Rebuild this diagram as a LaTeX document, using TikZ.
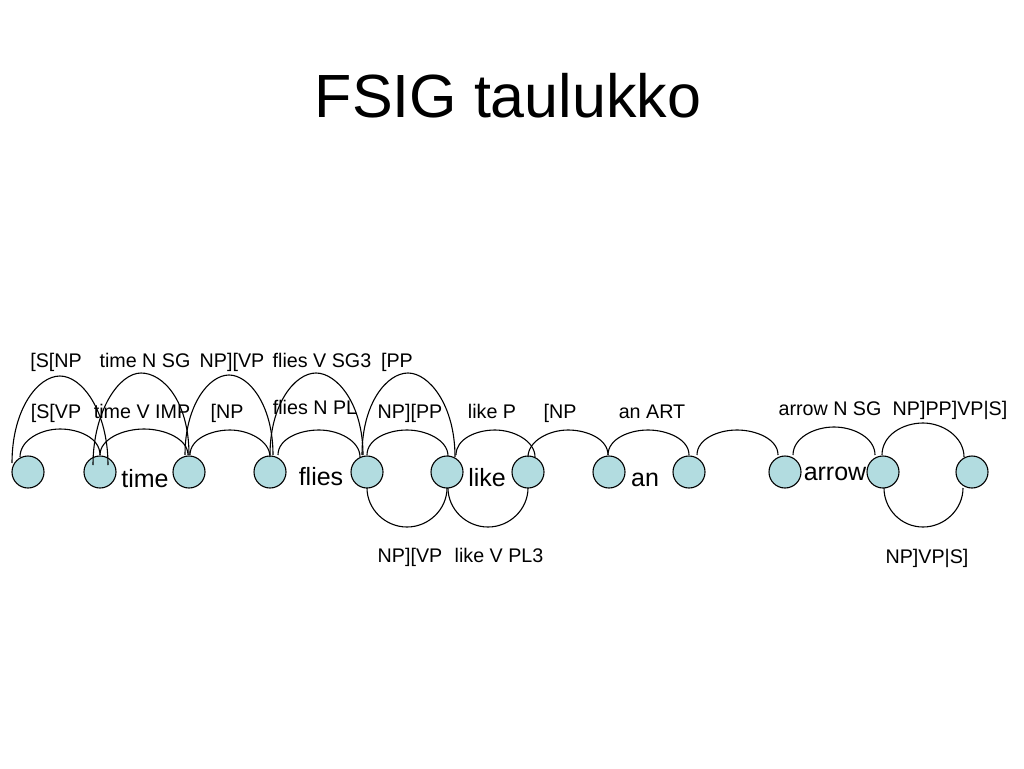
\documentclass[tikz,border=0pt]{standalone}
\usepackage{fontspec}
\setmainfont{Liberation Sans}
\definecolor{nodefill}{RGB}{178,220,224}
% #1 start, #2 end, #3 apex, #4 horizontal handle, #5 vertical handle (signed)
\newcommand\fsarc[5]{\draw[arc] (#1) .. controls +(0,#5) and +(-#4,0) .. (#3) .. controls +(#4,0) and +(0,#5) .. (#2);}
\begin{document}
\begin{tikzpicture}[x=1pt,y=-1pt,
  st/.style={circle,draw=black,line width=1.1pt,fill=nodefill,minimum size=32pt,inner sep=0pt},
  arc/.style={draw=black,line width=1.1pt},
  lab/.style={anchor=base,inner sep=0pt,font=\fontsize{19.7}{22}\selectfont},
  word/.style={anchor=base,inner sep=0pt,font=\fontsize{25}{28}\selectfont},
  ttl/.style={anchor=base,inner sep=0pt,font=\fontsize{61}{70}\selectfont}]
\useasboundingbox[fill=white] (0,0) rectangle (1024,768);
\node[ttl] (title) at (508,117) {FSIG taulukko};
% states
\node[st] (n0) at (28,472) {};
\node[st] (n1) at (100,472) {};
\node[st] (n2) at (189,472) {};
\node[st] (n3) at (270,472) {};
\node[st] (n4) at (367,472) {};
\node[st] (n5) at (447,472) {};
\node[st] (n6) at (528,472) {};
\node[st] (n7) at (609,472) {};
\node[st] (n8) at (689,472) {};
\node[st] (n9) at (785,472) {};
\node[st] (n10) at (883,472) {};
\node[st] (n11) at (972,472) {};
% apex points
\coordinate (q1) at (60,429);
\coordinate (q2) at (144,429);
\coordinate (q3) at (230,430);
\coordinate (q4) at (319,430);
\coordinate (q5) at (407,430);
\coordinate (q6) at (495,430);
\coordinate (q7) at (568,430);
\coordinate (q8) at (648,430);
\coordinate (q9) at (737,430);
\coordinate (q10) at (834,427);
\coordinate (q11) at (923,423);
\coordinate (t1) at (60,376);
\coordinate (t2) at (141,373);
\coordinate (t3) at (229,375);
\coordinate (t4) at (316,373);
\coordinate (t5) at (408,373);
\coordinate (d1) at (407,527);
\coordinate (d2) at (488,527);
\coordinate (d3) at (923,527);
% low arcs
\fsarc{[shift={(-8,-15)}]n0.center}{[shift={(0,-17)}]n1.center}{q1}{19}{-17}
\fsarc{[shift={(0,-17)}]n1.center}{[shift={(-1,-17)}]n2.center}{q2}{21}{-16}
\fsarc{[shift={(1,-17)}]n2.center}{[shift={(0,-15)}]n3.center}{q3}{19}{-16}
\fsarc{[shift={(8,-17)}]n3.center}{[shift={(-7,-15)}]n4.center}{q4}{20}{-16}
\fsarc{[shift={(0,-17)}]n4.center}{[shift={(1,-16)}]n5.center}{q5}{19}{-16}
\fsarc{[shift={(9,-17)}]n5.center}{[shift={(7,-15)}]n6.center}{q6}{19}{-16}
\fsarc{[shift={(0,-15)}]n6.center}{[shift={(-1,-17)}]n7.center}{q7}{19}{-16}
\fsarc{[shift={(-1,-17)}]n7.center}{[shift={(0,-17)}]n8.center}{q8}{19}{-16}
\fsarc{[shift={(8,-17)}]n8.center}{[shift={(-7,-17)}]n9.center}{q9}{19}{-16}
\fsarc{[shift={(8,-17)}]n9.center}{[shift={(-8,-17)}]n10.center}{q10}{20}{-17}
\fsarc{[shift={(-1,-17)}]n10.center}{[shift={(-8,-15)}]n11.center}{q11}{20}{-20}
% tall arcs
\fsarc{[shift={(-16,-9)}]n0.center}{[shift={(8,-7)}]n1.center}{t1}{22}{-54}
\fsarc{[shift={(-7,-7)}]n1.center}{[shift={(0,-17)}]n2.center}{t2}{22}{-54}
\fsarc{[shift={(-4,-17)}]n2.center}{[shift={(3,-17)}]n3.center}{t3}{20}{-50}
\fsarc{[shift={(0,-17)}]n3.center}{[shift={(-4,-17)}]n4.center}{t4}{21}{-51}
\fsarc{[shift={(-5,-17)}]n4.center}{[shift={(8,-15)}]n5.center}{t5}{21}{-52}
% bottom arcs
\fsarc{[shift={(0,16)}]n4.center}{[shift={(0,16)}]n5.center}{d1}{22}{21}
\fsarc{[shift={(1,16)}]n5.center}{[shift={(0,16)}]n6.center}{d2}{22}{21}
\fsarc{[shift={(1,16)}]n10.center}{[shift={(-9,16)}]n11.center}{d3}{22}{21}
% labels row 1
\node[lab] (l1) at (56,367) {[S[NP};
\node[lab] (l2) at (145,367) {time N SG};
\node[lab] (l3) at (232,367) {NP][VP};
\node[lab] (l4) at (322,367) {flies V SG3};
\node[lab] (l5) at (397,367) {[PP};
% labels row 2
\node[lab] (m1) at (56,418) {[S[VP};
\node[lab] (m2) at (142,418) {time V IMP};
\node[lab] (m3) at (227,418) {[NP};
\node[lab] (m4) at (315,414) {flies N PL};
\node[lab] (m5) at (410,418) {NP][PP};
\node[lab] (m6) at (492,418) {like P};
\node[lab] (m7) at (560,418) {[NP};
\node[lab] (m8) at (652,418) {an ART};
\node[lab] (m9) at (830,415) {arrow N SG};
\node[lab] (m10) at (950,415) {NP]PP]VP|S]};
% bottom labels
\node[lab] (b1) at (410,562) {NP][VP};
\node[lab] (b2) at (499,562) {like V PL3};
\node[lab] (b3) at (927,563) {NP]VP|S]};
% words
\node[word] (w1) at (145,487) {time};
\node[word] (w2) at (321,485) {flies};
\node[word] (w3) at (487,486) {like};
\node[word] (w4) at (645,486) {an};
\node[word] (w5) at (835,480) {arrow};
\end{tikzpicture}
\end{document}
